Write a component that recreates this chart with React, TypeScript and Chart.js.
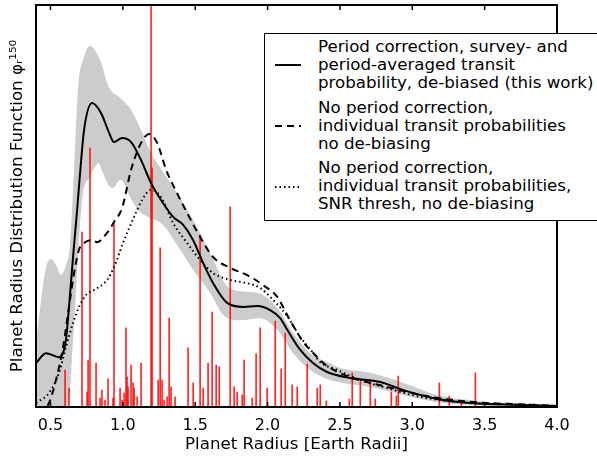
import React, { useEffect, useRef } from "react";
import { Chart, registerables } from "chart.js";

Chart.register(...registerables);

const FONT = "'DejaVu Sans', sans-serif";

const xTicks = [0.5, 1.0, 1.5, 2.0, 2.5, 3.0, 3.5, 4.0];

// Solid: period correction, de-biased (this work)
const solidR = [0.4, 0.469, 0.559, 0.607, 0.628, 0.656, 0.684, 0.708, 0.732, 0.787, 0.85, 0.905, 0.939, 0.995, 1.057, 1.126, 1.195, 1.264, 1.347, 1.417, 1.486, 1.555, 1.624, 1.721, 1.832, 1.928, 2.018, 2.087, 2.136, 2.226, 2.316, 2.412, 2.571, 2.779, 2.938, 3.173, 3.401, 3.747, 4.0];
const solidV = [10.9, 13.4, 12.4, 16.7, 24.9, 37.3, 49.0, 59.7, 68.9, 75.6, 73.1, 68.2, 65.9, 66.9, 65.9, 61.4, 55.7, 51.5, 47.3, 45.3, 41.5, 35.8, 30.8, 25.9, 24.9, 25.1, 24.1, 22.1, 19.2, 14.2, 10.9, 8.7, 7.2, 6.2, 4.2, 2.0, 1.0, 0.5, 0.25];

// Dashed: no period correction, individual transit probabilities, no de-biasing
const dashedR = [0.4, 0.47, 0.49, 0.538, 0.587, 0.628, 0.663, 0.697, 0.732, 0.787, 0.822, 0.891, 0.939, 0.995, 1.057, 1.126, 1.181, 1.237, 1.299, 1.354, 1.444, 1.534, 1.624, 1.742, 1.859, 1.97, 2.067, 2.143, 2.246, 2.316, 2.412, 2.592, 2.827, 3.056, 3.284, 3.519, 3.865, 4.0];
const dashedV = [0, 0, 1.0, 6.7, 14.9, 24.9, 33.3, 39.1, 40.8, 41.5, 41.0, 43.3, 46.0, 49.5, 59.0, 65.7, 67.9, 65.7, 59.0, 54.7, 48.3, 42.3, 37.3, 34.6, 32.8, 30.3, 27.4, 22.4, 16.2, 13.4, 10.2, 7.2, 5.0, 3.0, 1.7, 1.0, 0.5, 0.25];

// Dotted: no period correction, SNR thresh, no de-biasing
const dottedR = [0.4, 0.49, 0.559, 0.607, 0.656, 0.697, 0.746, 0.801, 0.891, 0.939, 1.009, 1.078, 1.133, 1.195, 1.264, 1.347, 1.444, 1.534, 1.624, 1.742, 1.859, 1.949, 2.039, 2.136, 2.226, 2.316, 2.364, 2.482, 2.641, 2.827, 3.056, 3.401, 3.865, 4.0];
const dottedV = [1.0, 3.5, 8.5, 14.9, 20.9, 24.9, 27.9, 29.1, 31.6, 34.8, 41.5, 47.3, 51.5, 54.0, 52.2, 45.8, 40.8, 36.6, 33.3, 31.6, 30.8, 29.6, 26.6, 22.6, 17.4, 13.4, 11.2, 9.2, 6.7, 4.7, 2.5, 1.0, 0.5, 0.25];

// Grey uncertainty band
const bandUpperR = [0.4, 0.435, 0.469, 0.504, 0.538, 0.573, 0.607, 0.635, 0.663, 0.69, 0.732, 0.773, 0.815, 0.85, 0.905, 0.974, 1.057, 1.126, 1.195, 1.278, 1.375, 1.486, 1.603, 1.742, 1.928, 2.067, 2.177, 2.295, 2.433, 2.502, 2.71, 2.938, 3.173, 3.401, 3.63, 4.0];
const bandUpperV = [15.4, 26.6, 34.6, 36.8, 35.3, 32.8, 35.3, 40.3, 59.0, 78.9, 87.1, 89.8, 88.3, 85.6, 79.4, 77.1, 73.9, 68.9, 63.2, 58.5, 53.2, 46.5, 38.3, 29.4, 28.4, 24.6, 18.4, 13.4, 10.9, 9.7, 8.5, 6.0, 3.0, 1.7, 1.0, 0.5];
const bandLowerR = [0.4, 0.6, 0.628, 0.656, 0.677, 0.69, 0.704, 0.725, 0.773, 0.808, 0.829, 0.863, 0.912, 0.932, 0.981, 1.002, 1.05, 1.119, 1.188, 1.278, 1.375, 1.486, 1.603, 1.693, 1.811, 1.949, 2.067, 2.177, 2.295, 2.433, 2.71, 2.938, 3.173, 3.401, 4.0];
const bandLowerV = [0, 0, 1.7, 16.7, 29.1, 37.3, 45.3, 53.2, 57.2, 59.7, 60.7, 58.2, 54.7, 54.5, 56.5, 56.0, 52.2, 48.5, 47.0, 45.3, 40.3, 34.1, 28.4, 22.9, 21.6, 22.1, 19.2, 13.4, 9.2, 6.7, 5.0, 3.0, 1.2, 0.5, 0];

// Red individual-planet spikes
const spikeR = [0.601, 0.628, 0.718, 0.753, 0.76, 0.773, 0.815, 0.843, 0.856, 0.877, 0.898, 0.932, 0.939, 0.981, 0.995, 1.009, 1.022, 1.029, 1.036, 1.057, 1.071, 1.078, 1.099, 1.126, 1.195, 1.202, 1.244, 1.258, 1.271, 1.285, 1.306, 1.32, 1.333, 1.361, 1.451, 1.486, 1.534, 1.555, 1.589, 1.617, 1.645, 1.666, 1.742, 1.769, 1.79, 1.825, 1.838, 1.894, 1.921, 1.949, 1.997, 2.053, 2.094, 2.122, 2.17, 2.205, 2.274, 2.343, 2.364, 2.406, 2.565, 2.585, 2.641, 2.71, 2.744, 2.855, 2.89, 2.903, 3.187, 3.256, 3.339, 3.436, 3.657];
const spikeV = [9.2, 4.7, 43.5, 3.7, 11.7, 64.4, 10.9, 2.2, 4.2, 1.7, 7.0, 2.2, 45.8, 4.7, 1.7, 3.5, 19.7, 7.5, 5.0, 10.4, 6.0, 4.7, 2.5, 10.9, 125, 59.5, 6.7, 39.6, 6.7, 1.7, 2.5, 22.1, 5.0, 2.5, 14.7, 6.0, 42.8, 4.7, 10.9, 23.6, 10.4, 10.0, 49.8, 5.0, 3.7, 3.0, 11.7, 2.2, 13.2, 19.7, 4.7, 21.4, 9.5, 18.4, 5.5, 5.0, 10.7, 4.7, 5.5, 1.5, 2.0, 8.5, 6.2, 6.7, 2.0, 3.7, 2.7, 7.7, 6.0, 2.7, 1.0, 8.5, 1.0];

const legendEntries = [
  ["Period correction, survey- and", "period-averaged transit", "probability, de-biased (this work)"],
  ["No period correction,", "individual transit probabilities", "no de-biasing"],
  ["No period correction,", "individual transit probabilities,", "SNR thresh, no de-biasing"],
];
const legendDash = ["", "7 5", "1.5 3"];

const toXY = (xs: number[], ys: number[]) => xs.map((x, i) => ({ x, y: ys[i] }));

const framePlugin = {
  id: "frame",
  afterDraw(chart: any) {
    const { ctx, chartArea } = chart;
    const { left, right, top, bottom } = chartArea;
    const xs = chart.scales.x;
    ctx.save();
    ctx.strokeStyle = "#000";
    ctx.lineWidth = 1.5;
    for (const t of xTicks) {
      const px = xs.getPixelForValue(t);
      ctx.beginPath();
      ctx.moveTo(px, bottom);
      ctx.lineTo(px, bottom - 5);
      ctx.moveTo(px, top);
      ctx.lineTo(px, top + 5);
      ctx.stroke();
    }
    ctx.lineWidth = 2;
    ctx.strokeRect(left, top, right - left, bottom - top);
    ctx.restore();
  },
};

export default function App() {
  const ref = useRef<HTMLCanvasElement | null>(null);

  useEffect(() => {
    if (!ref.current) return;
    const lineBase = {
      pointRadius: 0,
      fill: false,
      cubicInterpolationMode: "monotone" as const,
      borderColor: "#000",
      borderWidth: 2,
      borderCapStyle: "butt" as const,
    };
    const chart = new Chart(ref.current, {
      type: "line",
      data: {
        datasets: [
          {
            data: toXY(bandLowerR, bandLowerV),
            pointRadius: 0,
            borderColor: "rgba(0,0,0,0)",
            borderWidth: 0,
            fill: false,
            cubicInterpolationMode: "monotone",
            order: 4,
          } as any,
          {
            data: toXY(bandUpperR, bandUpperV),
            pointRadius: 0,
            borderColor: "rgba(0,0,0,0)",
            borderWidth: 0,
            backgroundColor: "rgb(204,204,204)",
            fill: "-1",
            cubicInterpolationMode: "monotone",
            order: 4,
          } as any,
          {
            type: "bar",
            data: toXY(spikeR, spikeV),
            backgroundColor: "rgba(255,0,0,0.85)",
            borderWidth: 0,
            barThickness: 1,
            order: 3,
          } as any,
          { ...lineBase, data: toXY(dottedR, dottedV), borderDash: [1.5, 3], order: 2 },
          { ...lineBase, data: toXY(dashedR, dashedV), borderDash: [7, 5], order: 1 },
          { ...lineBase, data: toXY(solidR, solidV), order: 0 },
        ],
      },
      options: {
        animation: false,
        responsive: false,
        devicePixelRatio: 1,
        layout: { padding: { top: 5, right: 40, bottom: 0, left: 0 } },
        plugins: { legend: { display: false }, tooltip: { enabled: false } },
        scales: {
          x: {
            type: "linear",
            min: 0.4,
            max: 4.0,
            offset: false,
            grid: { display: false, drawTicks: false, offset: false },
            border: { display: false },
            afterBuildTicks: (s: any) => {
              s.ticks = xTicks.map((v) => ({ value: v }));
            },
            afterFit: (s: any) => {
              s.height = 49;
            },
            ticks: {
              color: "#000",
              padding: 9,
              maxRotation: 0,
              font: { family: FONT, size: 16 },
              callback: (v: any) => Number(v).toFixed(1),
            },
            title: {
              display: true,
              text: "Planet Radius [Earth Radii]",
              color: "#000",
              font: { family: FONT, size: 16.67 },
              padding: { top: 0, bottom: 1 },
            },
          },
          y: {
            type: "linear",
            min: 0,
            max: 100,
            grid: { display: false },
            border: { display: false },
            ticks: { display: false },
            afterFit: (s: any) => {
              s.width = 36;
            },
            title: {
              display: true,
              text: "Planet Radius Distribution Function φᵣ¹⁵⁰",
              color: "#000",
              font: { family: FONT, size: 16.67 },
              padding: { top: 8, bottom: 0 },
            },
          },
        },
      },
      plugins: [framePlugin],
    });
    return () => chart.destroy();
  }, []);

  return (
    <div
      style={{
        position: "absolute",
        left: 0,
        top: 0,
        width: 597,
        height: 456,
        overflow: "hidden",
        background: "#fff",
        fontFamily: FONT,
      }}
    >
      <canvas ref={ref} width={597} height={456} style={{ display: "block" }} />
      <div
        style={{
          position: "absolute",
          left: 264,
          top: 33,
          width: 400,
          height: 188,
          boxSizing: "border-box",
          border: "1px solid #000",
          background: "#fff",
        }}
      >
        {legendEntries.map((lines, i) => (
          <React.Fragment key={i}>
            <svg
              width={30}
              height={6}
              style={{ position: "absolute", left: 10, top: [28, 89, 150][i] }}
            >
              <line
                x1={0}
                y1={3}
                x2={26}
                y2={3}
                stroke="#000"
                strokeWidth={2}
                strokeDasharray={legendDash[i] || undefined}
              />
            </svg>
            <div
              style={{
                position: "absolute",
                left: 53,
                top: [4, 65, 125][i],
                fontSize: 16.67,
                lineHeight: "18px",
                color: "#000",
                whiteSpace: "nowrap",
              }}
            >
              {lines.map((l, j) => (
                <div key={j}>{l}</div>
              ))}
            </div>
          </React.Fragment>
        ))}
      </div>
    </div>
  );
}
